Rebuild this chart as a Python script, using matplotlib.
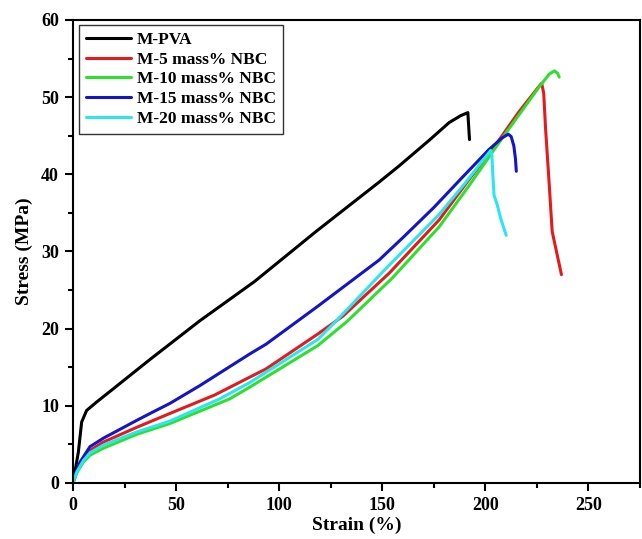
import matplotlib
matplotlib.use('Agg')
import matplotlib.pyplot as plt
from matplotlib.ticker import MultipleLocator

# Stress-strain curves
strain_pva = [0, 1.3, 2.6, 4.2, 6.6, 11.5, 19.5, 37.3, 61.4, 88, 117.9, 148.5, 158.2, 172.7, 182.4, 188, 191.5, 192.3]
stress_pva = [0, 2.0, 4.0, 7.9, 9.4, 10.5, 12.2, 16.0, 21.0, 26.1, 32.6, 39.0, 41.1, 44.4, 46.7, 47.6, 48.0, 44.5]

strain_5 = [0, 1.8, 5.0, 8.2, 14.7, 30.8, 46.9, 68.7, 85.6, 93.7, 118.7, 130.8, 153.4, 177.6, 192, 206, 216, 226,
            227.3, 228.3, 229.2, 230.8, 232.4, 234.8, 236.9]
stress_5 = [0, 1.5, 3.1, 4.2, 5.3, 7.2, 9.0, 11.4, 13.7, 14.8, 19.3, 21.6, 27.2, 34.1, 39.3, 44.2, 48.0, 51.4,
            51.8, 50.5, 45.9, 39.4, 32.6, 29.6, 27.0]

strain_10 = [0, 1.8, 5.0, 8.2, 14.7, 30.8, 46.9, 76, 85.6, 118.7, 133.2, 155, 177.6, 192, 206.6, 216, 226, 231,
             233.5, 235, 235.8]
stress_10 = [0, 1.3, 2.7, 3.6, 4.5, 6.3, 7.7, 10.9, 12.4, 17.8, 21.0, 26.6, 33.2, 38.5, 44.1, 47.6, 51.3, 53.0,
             53.4, 53.1, 52.6]

strain_15 = [0, 1.8, 3.4, 8.2, 14.7, 30.8, 37.3, 46.9, 61.4, 85.6, 93.7, 118.7, 148.5, 160, 175, 188.8, 201.7,
             208, 211.1, 212.5, 213.8, 214.6, 215]
stress_15 = [0, 1.6, 2.7, 4.7, 5.8, 8.1, 9.0, 10.3, 12.6, 16.7, 18.0, 22.9, 28.9, 31.8, 35.7, 39.6, 43.2,
             44.7, 45.2, 44.9, 43.7, 42.0, 40.4]

strain_20 = [0, 1.8, 5.0, 8.2, 14.7, 30.8, 46.9, 71.1, 85.6, 118.7, 128.4, 151.8, 177.6, 190, 197, 202.6,
             203.2, 203.6, 204.2, 205.8, 207.4, 209, 210.1]
stress_20 = [0, 1.4, 2.9, 3.9, 4.9, 6.6, 8.0, 10.9, 13.0, 18.6, 21.2, 27.8, 34.8, 38.8, 41.2, 43.1,
             42.3, 40.0, 37.3, 36.0, 34.3, 33.0, 32.1]

labels = ['M-PVA', 'M-5 mass% NBC', 'M-10 mass% NBC', 'M-15 mass% NBC', 'M-20 mass% NBC']
colors = ['#000000', '#e41a1c', '#2ee02e', '#1414c8', '#2ae6ee']

plt.rcParams['font.family'] = ['Liberation Serif', 'DejaVu Serif']
plt.rcParams['font.weight'] = 'bold'

fig = plt.figure(figsize=(6.42, 5.39), dpi=100)
ax = fig.add_axes([0.1137, 0.1039, 0.8832, 0.859])

series = [(strain_pva, stress_pva), (strain_5, stress_5), (strain_10, stress_10),
          (strain_15, stress_15), (strain_20, stress_20)]
for (x, y), lab, c in zip(series, labels, colors):
    ax.plot(x, y, color=c, lw=2.2, label=lab, solid_joinstyle='round', solid_capstyle='round')

ax.set_xlim(0, 275)
ax.set_ylim(0, 60)
ax.xaxis.set_major_locator(MultipleLocator(50))
ax.xaxis.set_minor_locator(MultipleLocator(25))
ax.yaxis.set_major_locator(MultipleLocator(10))
ax.yaxis.set_minor_locator(MultipleLocator(5))

for s in ax.spines.values():
    s.set_linewidth(1.5)
ax.tick_params(which='both', direction='out', top=False, right=False, width=1.5)
ax.tick_params(which='major', length=6, pad=4, labelsize=13)
ax.tick_params(which='minor', length=3.5)
for t in ax.get_xticklabels() + ax.get_yticklabels():
    t.set_fontweight('bold')

ax.set_xlabel('Strain (%)', fontsize=14, fontweight='bold', labelpad=2)
ax.set_ylabel('Stress (MPa)', fontsize=14, fontweight='bold', labelpad=6)

leg = ax.legend(loc='upper left', bbox_to_anchor=(0.011, 0.989), borderaxespad=0,
                fontsize=12.5, handlelength=2.6, handletextpad=0.3, labelspacing=0.2,
                frameon=True, fancybox=False, borderpad=0.4,
                prop={'weight': 'bold', 'size': 12.5})
leg.get_frame().set_edgecolor('black')
leg.get_frame().set_linewidth(1.0)

fig.savefig('out.png', dpi=100, facecolor='white')
